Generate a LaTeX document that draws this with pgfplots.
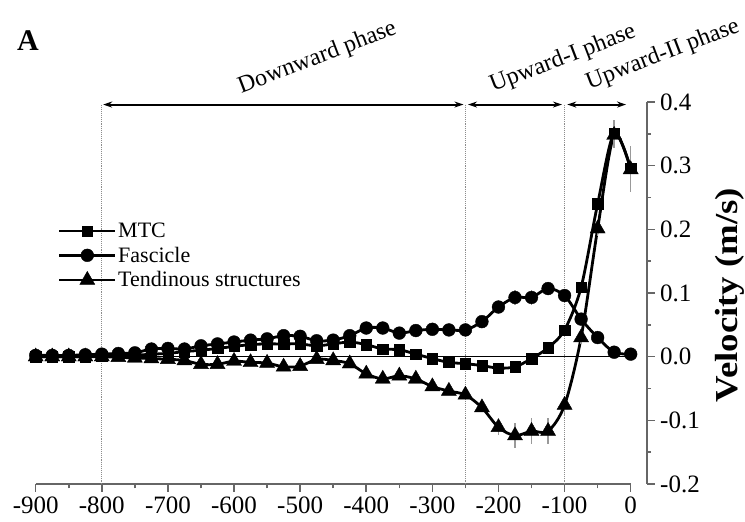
\documentclass[border=0pt]{standalone}
\usepackage{fontspec}
\setmainfont{Liberation Serif}
\usepackage{graphicx}
\usepackage{pgfplots}
\pgfplotsset{compat=1.18}
\usepackage{pgfplotstable}
\usetikzlibrary{arrows.meta}

\pgfplotstableread{
x y e
-900 0.000 0
-875 0.000 0
-850 0.000 0
-825 0.000 0
-800 0.001 0
-775 0.002 0
-750 0.002 0
-725 0.004 0
-700 0.005 0
-675 0.008 0
-650 0.010 0
-625 0.013 0
-600 0.016 0
-575 0.019 0
-550 0.020 0
-525 0.020 0
-500 0.020 0
-475 0.017 0
-450 0.020 0
-425 0.023 0
-400 0.019 0
-375 0.012 0
-350 0.011 0
-325 0.004 0
-300 -0.003 0
-275 -0.009 0
-250 -0.011 0
-225 -0.014 0
-200 -0.018 0
-175 -0.016 0
-150 -0.003 0.005
-125 0.014 0.006
-100 0.042 0.008
-75 0.109 0.008
-50 0.240 0.010
-25 0.351 0.020
0 0.296 0.035
}\mtc

\pgfplotstableread{
x y e
-900 0.002 0
-875 0.002 0
-850 0.002 0
-825 0.003 0
-800 0.004 0
-775 0.005 0
-750 0.006 0
-725 0.012 0
-700 0.013 0
-675 0.012 0
-650 0.017 0
-625 0.020 0
-600 0.023 0
-575 0.026 0
-550 0.028 0
-525 0.033 0
-500 0.032 0
-475 0.025 0
-450 0.026 0
-425 0.033 0
-400 0.045 0
-375 0.045 0
-350 0.037 0
-325 0.041 0
-300 0.043 0
-275 0.042 0
-250 0.042 0
-225 0.055 0.004
-200 0.078 0.006
-175 0.093 0.012
-150 0.093 0.012
-125 0.107 0.010
-100 0.096 0.008
-75 0.059 0.006
-50 0.030 0.005
-25 0.007 0.005
0 0.004 0.010
}\fas

\pgfplotstableread{
x y e
-900 0.000 0
-875 0.000 0
-850 0.000 0
-825 0.000 0
-800 0.000 0
-775 -0.001 0
-750 -0.002 0
-725 -0.003 0
-700 -0.004 0
-675 -0.006 0
-650 -0.012 0
-625 -0.012 0
-600 -0.007 0
-575 -0.009 0
-550 -0.010 0
-525 -0.016 0
-500 -0.015 0
-475 -0.004 0
-450 -0.006 0
-425 -0.011 0
-400 -0.027 0
-375 -0.035 0
-350 -0.030 0
-325 -0.035 0
-300 -0.047 0
-275 -0.054 0
-250 -0.060 0.004
-225 -0.080 0.006
-200 -0.111 0.012
-175 -0.124 0.020
-150 -0.117 0.020
-125 -0.117 0.020
-100 -0.076 0.015
-75 0.030 0.010
-50 0.201 0.012
-25 0.348 0.020
0 0.294 0.035
}\ten

\begin{document}
\begin{tikzpicture}
\useasboundingbox (-35.7pt,-38pt) rectangle (709.3pt,484pt);
\begin{axis}[
  at={(0pt,0pt)}, anchor=south west,
  scale only axis, width=595pt, height=382pt,
  xmin=-900, xmax=0, ymin=-0.2, ymax=0.4,
  clip=false,
  axis x line*=bottom, axis y line*=right,
  axis y line shift=16pt,
  axis line style={line width=1.8pt, black!60, -},
  tick align=outside,
  major tick length=8pt, minor tick length=4.5pt,
  every tick/.style={line width=1.6pt, black!60},
  xtick={-900,-800,-700,-600,-500,-400,-300,-200,-100,0},
  xticklabels={-900,-800,-700,-600,-500,-400,-300,-200,-100,0},
  minor xtick={-850,-750,-650,-550,-450,-350,-250,-150,-50},
  ytick={-0.2,-0.1,0,0.1,0.2,0.3,0.4},
  yticklabels={-0.2,-0.1,0.0,0.1,0.2,0.3,0.4},
  minor ytick={-0.15,-0.05,0.05,0.15,0.25,0.35},
  tick label style={font=\fontsize{25}{25}\selectfont, text=black},
  xticklabel style={yshift=-1pt},
  yticklabel style={xshift=2pt},
  legend style={at={(0.037,0.688)}, anchor=north west, draw=none, fill=none,
    inner sep=0pt, font=\fontsize{22}{22}\selectfont, row sep=5pt,
    nodes={inner sep=1.5pt}},
  legend cell align=left,
  legend image code/.code={\draw[mark repeat=2,mark phase=2,#1] plot coordinates {(0pt,0pt) (28pt,0pt) (56pt,0pt)};},
  error bars/y dir=both, error bars/y explicit,
  error bars/error mark=none,
  error bars/error bar style={black!40, line width=1.4pt, solid},
]
\addplot[forget plot, line width=1pt, black, no marks] coordinates {(-900,0) (0,0)};
\addplot[black, line width=2.8pt, smooth, mark=square*, mark size=5.2pt, mark options={line width=0.4pt, fill=black}] table[x=x, y=y, y error=e] {\mtc};
\addplot[black, line width=2.8pt, smooth, mark=*, mark size=6.4pt, mark options={line width=0.4pt, fill=black}] table[x=x, y=y, y error=e] {\fas};
\addplot[black, line width=2.8pt, smooth, mark=triangle*, mark size=8.7pt, mark options={line width=0.4pt, fill=black}] table[x=x, y=y, y error=e] {\ten};
\legend{MTC, Fascicle, Tendinous structures}
\draw[black!45, densely dotted, line width=1.1pt] (axis cs:-800,0.396) -- (axis cs:-800,-0.2);
\draw[black!45, densely dotted, line width=1.1pt] (axis cs:-250,0.396) -- (axis cs:-250,-0.2);
\draw[black!45, densely dotted, line width=1.1pt] (axis cs:-100,0.396) -- (axis cs:-100,-0.2);
\draw[black, line width=2pt, {Stealth[length=9pt,width=6pt]}-{Stealth[length=9pt,width=6pt]}] (axis cs:-798,0.396) -- (axis cs:-253,0.396);
\draw[black, line width=2pt, {Stealth[length=9pt,width=6pt]}-{Stealth[length=9pt,width=6pt]}] (axis cs:-246,0.396) -- (axis cs:-104,0.396);
\draw[black, line width=2pt, {Stealth[length=9pt,width=6pt]}-{Stealth[length=9pt,width=6pt]}] (axis cs:-96,0.396) -- (axis cs:-7,0.396);
\end{axis}
\node[rotate=21, font=\fontsize{24}{24}\selectfont, inner sep=0pt] at (281.8pt,426pt) {Downward phase};
\node[rotate=21, font=\fontsize{24}{24}\selectfont, inner sep=0pt] at (527.3pt,425pt) {Upward-I phase};
\node[rotate=21, font=\fontsize{24}{24}\selectfont, inner sep=0pt] at (627.3pt,429pt) {Upward-II phase};
\node[font=\fontsize{30}{30}\selectfont\bfseries, inner sep=0pt] at (-7.7pt,443pt) {A};
\node[rotate=90, font=\fontsize{32}{32}\selectfont\bfseries, inner sep=0pt] at (694.3pt,189pt) {\scalebox{1.15}[1]{Velocity (m/s)}};
\end{tikzpicture}
\end{document}
